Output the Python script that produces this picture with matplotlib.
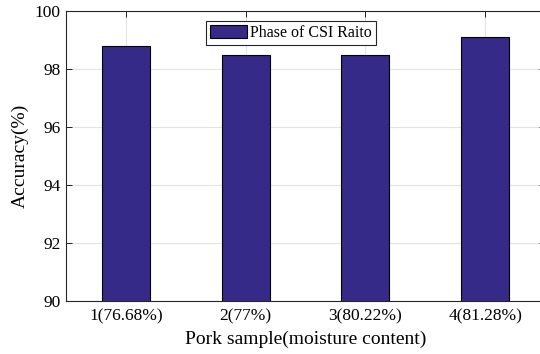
import numpy as np
import matplotlib.pyplot as plt

plt.rcParams['font.family'] = ['Liberation Serif', 'DejaVu Serif']

# data
samples = ['1(76.68%)', '2(77%)', '3(80.22%)', '4(81.28%)']
accuracy = [98.8, 98.5, 98.5, 99.1]
series_name = 'Phase of CSI Raito'

fig = plt.figure(figsize=(5.4, 3.54), dpi=100)
# axes runs slightly past the right edge, like the cropped original
ax = fig.add_axes([66 / 540, 53 / 354, 479 / 540, 290 / 354])

x = np.arange(1, len(samples) + 1)
ax.bar(x, accuracy, width=0.4, color=(0.2081, 0.1663, 0.5292),
       edgecolor='black', linewidth=0.8, label=series_name, zorder=3)

ax.set_xlim(0.5, 4.5)
ax.set_ylim(90, 100)
ax.set_xticks(x)
ax.set_xticklabels(samples)
ax.set_yticks(np.arange(90, 101, 2))
ax.tick_params(direction='in', labelsize=12.5, length=4, width=0.6,
               top=True, right=True, pad=4)
ax.tick_params(axis='x', pad=5)
ax.grid(True, color='#e3e3e3', linewidth=0.8, zorder=0)
for s in ax.spines.values():
    s.set_linewidth(0.8)
    s.set_color('#262626')

ax.set_xlabel('Pork sample(moisture content)', fontsize=14, labelpad=5)
ax.set_ylabel('Accuracy(%)', fontsize=14, labelpad=4)

leg = ax.legend(loc='upper center', bbox_to_anchor=(0.47, 0.965), fontsize=11.5,
                fancybox=False, framealpha=1, edgecolor='#262626',
                handlelength=2.3, handleheight=0.8, borderpad=0.25,
                handletextpad=0.2, borderaxespad=0)
leg.get_frame().set_linewidth(0.8)

fig.savefig('out.png', dpi=100)
